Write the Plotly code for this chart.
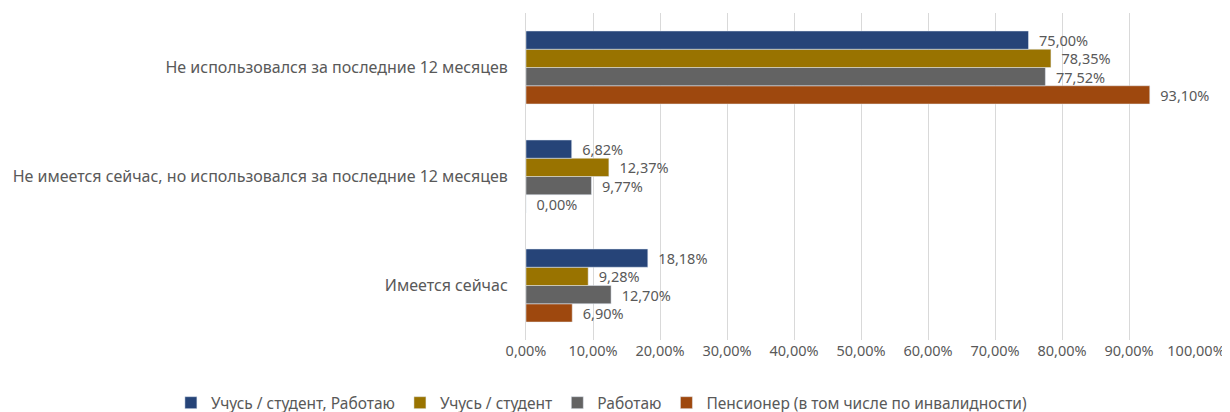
import plotly.graph_objects as go

categories = ["Имеется сейчас",
              "Не имеется сейчас, но использовался за последние 12 месяцев",
              "Не использовался за последние 12 месяцев"]
series_names = ["Учусь / студент, Работаю", "Учусь / студент", "Работаю",
                "Пенсионер (в том числе по инвалидности)"]
values = [
    [18.18, 6.82, 75.00],
    [9.28, 12.37, 78.35],
    [12.70, 9.77, 77.52],
    [6.90, 0.00, 93.10],
]
colors = ["#264478", "#997300", "#636363", "#9E480E"]
tick_vals = [0, 10, 20, 30, 40, 50, 60, 70, 80, 90, 100]
tick_text = [f"{v:.2f}%".replace(".", ",") for v in tick_vals]

fig = go.Figure()
for i in reversed(range(4)):
    fig.add_trace(go.Bar(
        y=categories, x=values[i], name=series_names[i], orientation="h",
        marker=dict(color=colors[i]),
        text=["  " + f"{v:.2f}%".replace(".", ",") for v in values[i]],
        textposition="outside", cliponaxis=False, constraintext="none",
        textfont=dict(size=14.5, color="#595959"),
    ))

fig.update_layout(
    width=1222, height=420,
    barmode="group", bargap=0.33, bargroupgap=0,
    plot_bgcolor="white", paper_bgcolor="white",
    font=dict(family="Noto Sans, sans-serif", size=14, color="#595959"),
    margin=dict(l=518, r=30, t=5, b=88),
    xaxis=dict(range=[0, 100], tickvals=tick_vals, ticktext=tick_text,
               showgrid=True, gridcolor="#d9d9d9", zeroline=False,
               showline=False, tickfont=dict(size=14.5, color="#595959")),
    yaxis=dict(showline=True, linecolor="#d9d9d9", ticks="", ticklen=0,
               ticklabelstandoff=14,
               tickfont=dict(size=16, color="#595959"), automargin=False),
    legend=dict(orientation="h", xref="paper", x=-0.53, xanchor="left",
                yref="paper", y=-0.193, yanchor="middle",
                traceorder="reversed", itemwidth=30,
                font=dict(size=15.5, color="#595959")),
)
fig.write_html("out.html")
